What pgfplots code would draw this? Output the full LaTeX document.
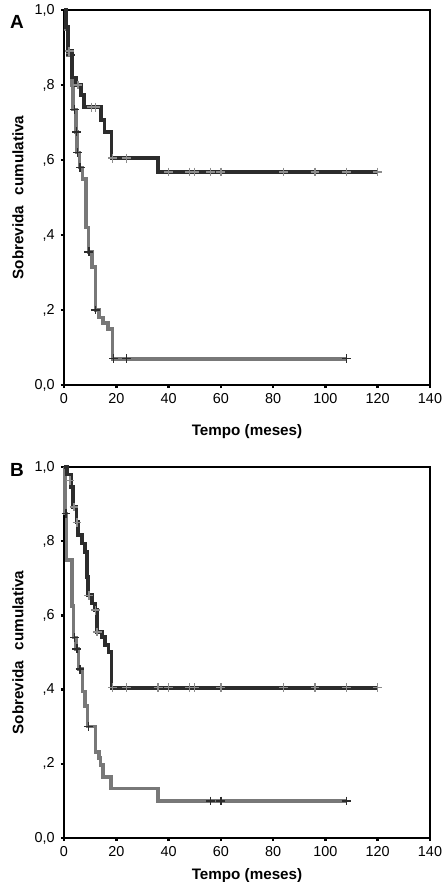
\documentclass[border=0pt]{standalone}
\usepackage{fontspec}
\setmainfont{Liberation Sans}
\usepackage{pgfplots}
\pgfplotsset{compat=1.18}

\definecolor{kmdark}{HTML}{2C2C2C}
\definecolor{kmgray}{HTML}{787878}

\pgfplotsset{
  kmaxis/.style={
    scale only axis,
    width=183pt,
    xmin=0, xmax=140, ymin=0, ymax=1,
    xtick={0,20,...,140},
    ytick={0,0.2,0.4,0.6,0.8,1},
    yticklabels={{0,0},{,2},{,4},{,6},{,8},{1,0}},
    xtick pos=bottom, ytick pos=left,
    tick align=outside,
    major tick length=1.6pt,
    every tick/.style={black, line width=1.3pt},
    axis line style={line width=0.7pt},
    ticklabel style={font=\fontsize{7.2}{8}\selectfont},
    /pgf/number format/assume math mode=true,
    xticklabel style={yshift=1pt},
    yticklabel style={xshift=0.5pt},
    label style={font=\bfseries\fontsize{7.6}{9}\selectfont},
    ylabel={Sobrevida\hspace{0.7em}cumulativa},
    xlabel={Tempo (meses)},
    ylabel style={at={(axis description cs:-0.126,0.5)}, anchor=center},
    clip=false,
  },
  darkline/.style={const plot, color=kmdark, line width=1.9pt, no marks},
  grayline/.style={const plot, color=kmgray, line width=1.8pt, no marks},
  darkcens/.style={only marks, mark=+, mark size=2.2pt, color=kmgray!85, mark options={line width=0.75pt}},
  graycens/.style={only marks, mark=+, mark size=2.2pt, color=kmdark, mark options={line width=0.75pt}},
}

\begin{document}
\begin{tikzpicture}
\useasboundingbox (0,0) rectangle (221.5pt,441pt);

% panel A
\begin{axis}[kmaxis, height=187.5pt, at={(32pt,248.5pt)}, anchor=south west,
  xlabel style={at={(axis description cs:0.5,-0.125)}, anchor=center}]
\addplot[grayline] coordinates {
  (0,1) (0.5,0.95) (1.5,0.88) (3,0.80) (3.5,0.735) (4.5,0.675) (5,0.62)
  (6,0.58) (7,0.55) (8.5,0.42) (9.3,0.355) (10.8,0.315) (12,0.20)
  (13.5,0.18) (15,0.165) (16.8,0.15) (18.5,0.07) (108,0.07)
};
\addplot[darkline] coordinates {
  (0,1) (0.8,0.955) (1.5,0.89) (3,0.82) (4.5,0.80) (6.4,0.773) (7.6,0.741)
  (14,0.707) (15.5,0.675) (18.2,0.605) (36,0.568) (120,0.568)
};
\addplot[graycens] coordinates {
  (2.5,0.88) (4,0.735) (4.8,0.675) (5.2,0.62) (6.2,0.58) (9.5,0.355)
  (12,0.20) (19,0.07) (24,0.07) (108,0.07)
};
\addplot[darkcens] coordinates {
  (2,0.89) (5.3,0.80) (10.6,0.741) (12.1,0.741) (18.6,0.605) (24,0.605)
  (40,0.568) (48,0.568) (50,0.568) (56,0.568) (60,0.568) (84,0.568)
  (96,0.568) (108,0.568) (120,0.568)
};
\end{axis}

% panel B
\begin{axis}[kmaxis, height=185.5pt, at={(32pt,22pt)}, anchor=south west,
  xlabel style={at={(axis description cs:0.5,-0.102)}, anchor=center}]
\addplot[grayline] coordinates {
  (0,1) (0.3,0.875) (1,0.75) (3,0.625) (3.6,0.54) (4.6,0.51) (5.6,0.455)
  (7,0.395) (8,0.355) (9,0.30) (12,0.232) (13.5,0.215) (14,0.196)
  (15,0.165) (18,0.133) (36,0.10) (108,0.10)
};
\addplot[darkline] coordinates {
  (0,1) (1,0.98) (2.6,0.946) (3.5,0.892) (4.8,0.851) (5.5,0.816) (6.8,0.794)
  (8,0.77) (8.7,0.703) (9.3,0.654) (10.6,0.632) (11.9,0.614) (12.5,0.555)
  (14.4,0.542) (15.7,0.52) (17,0.502) (18.2,0.405) (120,0.405)
};
\addplot[graycens] coordinates {
  (0.8,0.875) (4,0.54) (4.9,0.51) (6.1,0.455) (9.3,0.30)
  (56,0.10) (60,0.10) (108,0.10)
};
\addplot[darkcens] coordinates {
  (2.3,0.964) (3.8,0.892) (5,0.851) (9.5,0.654) (12,0.614) (12.7,0.555)
  (18.6,0.405) (24,0.405) (36,0.405) (40,0.405) (48,0.405) (50,0.405)
  (60,0.405) (84,0.405) (96,0.405) (108,0.405) (120,0.405)
};
\end{axis}

\node[font=\bfseries\fontsize{9.5}{10}\selectfont] at (8.5pt,430pt) {A};
\node[font=\bfseries\fontsize{9.5}{10}\selectfont] at (8.5pt,206pt) {B};
\end{tikzpicture}
\end{document}
